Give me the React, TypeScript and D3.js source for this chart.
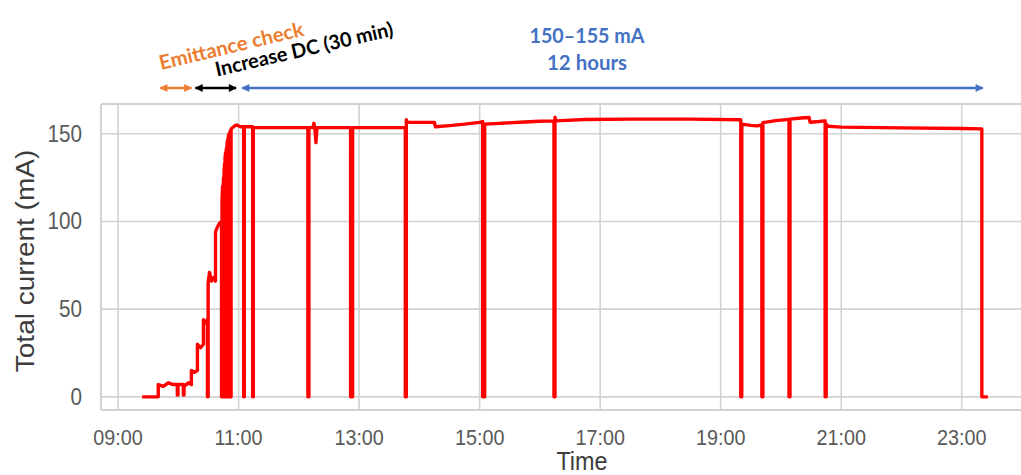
import * as d3 from 'd3';

// Total current log (time of day, mA)
const times = [
  '09:24', '09:40', '09:40', '09:45', '09:50', '09:55', '09:59', '09:59', '09:59:40', '09:59:40',
  '10:05', '10:05', '10:05:40', '10:05:40', '10:10', '10:13', '10:13', '10:16', '10:19', '10:19',
  '10:22', '10:25', '10:25', '10:27', '10:29', '10:29', '10:29:40', '10:29:40', '10:31', '10:33',
  '10:35', '10:37', '10:37', '10:39', '10:41', '10:43', '10:43', '10:43:30', '10:43:30', '10:44',
  '10:44', '10:44:30', '10:44:30', '10:45', '10:45', '10:45:30', '10:45:30', '10:46', '10:46', '10:46:30',
  '10:46:30', '10:47', '10:47', '10:47:30', '10:47:30', '10:48', '10:48', '10:48:30', '10:48:30', '10:49',
  '10:49', '10:49:30', '10:49:30', '10:50', '10:50', '10:50:30', '10:50:30', '10:51', '10:51', '10:51:30',
  '10:51:30', '10:52', '10:52', '10:52:30', '10:52:30', '10:53', '10:56', '10:58', '11:02', '11:05',
  '11:05', '11:05:40', '11:05:40', '11:14', '11:14', '11:14:40', '11:14:40', '12:09', '12:09', '12:10',
  '12:10', '12:14', '12:15', '12:16', '12:17', '12:18', '12:51:30', '12:51:30', '12:53:30', '12:53:30',
  '13:46', '13:46', '13:47', '13:47', '13:48', '14:15', '14:16', '14:30', '14:45', '15:00',
  '15:03', '15:03', '15:05', '15:05', '15:15', '15:40', '16:00', '16:14', '16:14', '16:15',
  '16:15', '16:16', '16:45', '17:30', '18:30', '19:20', '19:20', '19:21', '19:21', '19:30',
  '19:36', '19:41', '19:41', '19:42', '19:42', '19:55', '20:08', '20:08', '20:09', '20:09',
  '20:20', '20:28', '20:29', '20:38', '20:44', '20:44', '20:45', '20:45', '20:47', '21:00',
  '22:00', '23:00', '23:20', '23:20', '23:26',
];
const currentMA = [
  0, 0, 7, 6, 8, 7, 7, 1, 1, 7,
  7, 1, 1, 6, 8, 7, 15, 14, 15, 30,
  28, 30, 44, 42, 44, 0, 0, 65, 71, 66,
  68, 66, 94, 97, 99, 100, 0, 0, 112, 120,
  0, 0, 118, 125, 0, 0, 128, 133, 0, 0,
  136, 139, 0, 0, 140, 142, 0, 0, 144, 146,
  0, 0, 147, 149, 0, 0, 150, 150, 0, 0,
  151, 152, 0, 0, 152, 153, 154.5, 155, 154, 154,
  0, 0, 154, 154, 0, 0, 153.5, 153.5, 0, 0,
  153.5, 153.5, 156, 153, 145, 153.5, 153.5, 0, 0, 153.5,
  153.5, 0, 0, 158, 156.5, 156.5, 154, 154.7, 155.5, 156.5,
  157, 0, 0, 155.5, 155.8, 156.6, 157.2, 157.4, 0, 0,
  159.5, 157.4, 158.2, 158.4, 158.4, 158, 0, 0, 155.5, 154.8,
  154.5, 155, 0, 0, 156.4, 157.5, 158.2, 0, 0, 158.4,
  159, 159.3, 156.6, 157, 157.4, 0, 0, 155.5, 154.3, 153.8,
  153.4, 153, 152.8, 0, 0,
];

const xTickLabels = ['09:00', '11:00', '13:00', '15:00', '17:00', '19:00', '21:00', '23:00'];
const yTicks = [0, 50, 100, 150];

// annotated phases (arrows above the plot)
const phaseStarts = ['09:42', '10:17', '11:03:30'];
const phaseEnds = ['10:13', '10:57:30', '23:21'];
const phaseColors = ['#ED7D31', '#000000', '#4472C4'];

const W = 1021;
const H = 475;
const plot = { left: 101, right: 1021, top: 104, bottom: 410 };

function toDate(s: string) {
  const [h, m, sec] = s.split(':').map(Number);
  return new Date(2000, 0, 1, h, m, sec || 0);
}

const grid = '#d2d2d2';
const tickColor = '#595959';
const titleColor = '#3c3c3c';
const sans = '"Liberation Sans", Arial, sans-serif';
const callout = 'Lato, "Open Sans", sans-serif';

export default function App() {
  const x = d3
    .scaleTime()
    .domain([toDate('08:43'), toDate('23:59')])
    .range([plot.left, plot.right]);
  const y = d3.scaleLinear().domain([-7.5, 167]).range([plot.bottom, plot.top]);

  const points: [Date, number][] = times.map((t, i) => [toDate(t), currentMA[i]]);
  const line = d3
    .line<[Date, number]>()
    .x((d) => x(d[0]))
    .y((d) => y(d[1]));

  const arrowY = 88;

  return (
    <svg
      width={W}
      height={H}
      style={{ position: 'absolute', left: 0, top: 0, background: '#fff' }}
    >
      <defs>
        {phaseColors.map((c, i) => (
          <marker
            key={i}
            id={`head${i}`}
            viewBox="0 0 10 10"
            refX={9}
            refY={5}
            markerWidth={i === 2 ? 11 : 9}
            markerHeight={8}
            markerUnits="userSpaceOnUse"
            orient="auto-start-reverse"
          >
            <path d="M0,0 L10,5 L0,10 z" fill={c} />
          </marker>
        ))}
      </defs>

      {/* frame */}
      <line x1={plot.left} x2={plot.right} y1={plot.top} y2={plot.top} stroke={grid} strokeWidth={2} />
      <line x1={plot.left} x2={plot.right} y1={plot.bottom} y2={plot.bottom} stroke={grid} strokeWidth={2} />
      <line x1={plot.left} x2={plot.left} y1={plot.top} y2={plot.bottom} stroke={grid} strokeWidth={2} />

      {/* grid */}
      {yTicks.map((v) => (
        <line key={v} x1={plot.left} x2={plot.right} y1={y(v)} y2={y(v)} stroke={grid} strokeWidth={1.6} />
      ))}
      {xTickLabels.map((t) => (
        <line key={t} x1={x(toDate(t))} x2={x(toDate(t))} y1={plot.top} y2={plot.bottom} stroke={grid} strokeWidth={1.6} />
      ))}

      {/* tick labels */}
      {yTicks.map((v) => (
        <text
          key={v}
          transform={`translate(82,${y(v) + 8}) scale(0.9,1)`}
          textAnchor="end"
          fontFamily={sans}
          fontSize={23}
          fill={tickColor}
        >
          {v}
        </text>
      ))}
      {xTickLabels.map((t) => (
        <text
          key={t}
          transform={`translate(${x(toDate(t))},445) scale(0.9,1)`}
          textAnchor="middle"
          fontFamily={sans}
          fontSize={22}
          fill={tickColor}
        >
          {t}
        </text>
      ))}

      {/* axis titles */}
      <text
        transform="translate(582,470) scale(0.9,1)"
        textAnchor="middle"
        fontFamily={sans}
        fontSize={26}
        fill={titleColor}
      >
        Time
      </text>
      <text
        transform="translate(34,261) scale(0.9,1) rotate(-90)"
        textAnchor="middle"
        fontFamily={sans}
        fontSize={28}
        fill={titleColor}
      >
        Total current (mA)
      </text>

      {/* data */}
      <path
        d={line(points) ?? ''}
        fill="none"
        stroke="#ff0000"
        strokeWidth={3.4}
        strokeLinejoin="round"
      />

      {/* phase arrows */}
      {phaseStarts.map((s, i) => (
        <line
          key={s}
          x1={x(toDate(s))}
          x2={x(toDate(phaseEnds[i]))}
          y1={arrowY}
          y2={arrowY}
          stroke={phaseColors[i]}
          strokeWidth={2.5}
          markerStart={`url(#head${i})`}
          markerEnd={`url(#head${i})`}
        />
      ))}

      {/* phase labels */}
      <text
        transform="translate(161,70) rotate(-13.5)"
        fontFamily={callout}
        fontWeight={700}
        fontSize={20}
        fill={phaseColors[0]}
        textLength={148}
        lengthAdjust="spacingAndGlyphs"
      >
        Emittance check
      </text>
      <text
        transform="translate(217,76.5) rotate(-13)"
        fontFamily={callout}
        fontWeight={700}
        fontSize={20}
        fill={phaseColors[1]}
        textLength={182}
        lengthAdjust="spacingAndGlyphs"
      >
        Increase DC (30 min)
      </text>
      <text
        x={587}
        y={43}
        textAnchor="middle"
        fontFamily={callout}
        fontWeight={700}
        fontSize={20}
        fill={phaseColors[2]}
        textLength={115}
        lengthAdjust="spacingAndGlyphs"
      >
        150–155 mA
      </text>
      <text
        x={587}
        y={70}
        textAnchor="middle"
        fontFamily={callout}
        fontWeight={700}
        fontSize={20}
        fill={phaseColors[2]}
        textLength={80}
        lengthAdjust="spacingAndGlyphs"
      >
        12 hours
      </text>
    </svg>
  );
}
